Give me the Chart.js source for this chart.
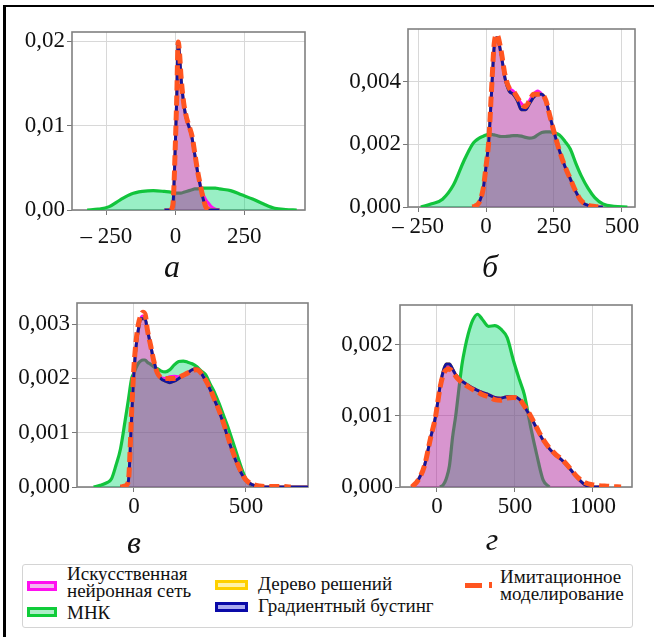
<!DOCTYPE html>
<html lang="ru">
<head>
<meta charset="UTF-8" />
<title>Плотности распределения</title>
<script src="https://cdn.jsdelivr.net/npm/chart.js"></script>
<style>
  body { margin: 0; background: #fff; width: 654px; height: 637px; overflow: hidden; position: relative; font-family: 'Liberation Serif', 'Times New Roman', 'DejaVu Serif', serif; }
  .frame { position: absolute; left: 3px; top: 5px; width: 700px; height: 700px; border-top: 2.5px solid #000; border-left: 3px solid #000; }
  canvas { position: absolute; }
  .sub { position: absolute; font-style: italic; font-size: 32px; line-height: 32px; transform: translateX(-50%); color: #111; }
  .legend { position: absolute; left: 22px; top: 564px; width: 609px; height: 62px; border: 1px solid #d4d4d4; border-radius: 3px; background: #fff; }
  .sw { position: absolute; box-sizing: border-box; border: 3px solid; }
  .lt { position: absolute; font-size: 19px; line-height: 17px; color: #111; white-space: nowrap; }
</style>
</head>
<body>
<div class="frame"></div>

<canvas id="chA"></canvas>
<canvas id="chB"></canvas>
<canvas id="chC"></canvas>
<canvas id="chD"></canvas>

<div class="sub" style="left:172px; top:250px;">а</div>
<div class="sub" style="left:490px; top:250px;">б</div>
<div class="sub" style="left:134px; top:526px;">в</div>
<div class="sub" style="left:492px; top:523px;">г</div>

<div class="legend"></div>
<div class="sw" style="left:27px; top:581px; width:30px; height:10px; border-color:#ff10f0; background:#f3b8ef;"></div>
<div class="lt" style="left:67px; top:565px;">Искусственная<br>нейронная сеть</div>
<div class="sw" style="left:27px; top:607px; width:30px; height:10px; border-color:#10cc3a; background:#aeeec8;"></div>
<div class="lt" style="left:67px; top:604px;">МНК</div>
<div class="sw" style="left:215px; top:580px; width:33px; height:10px; border-color:#ffd000; background:#fff2a8;"></div>
<div class="lt" style="left:258px; top:575px;">Дерево решений</div>
<div class="sw" style="left:215px; top:602px; width:33px; height:10px; border-color:#0a0aa8; background:#acacf0;"></div>
<div class="lt" style="left:258px; top:597px;">Градиентный бустинг</div>
<div style="position:absolute; left:465px; top:583px; width:17px; height:5px; background:#ff5520;"></div>
<div style="position:absolute; left:489px; top:582px; width:3px; height:6px; background:#ff5520;"></div>
<div class="lt" style="left:500px; top:568px;">Имитационное<br>моделирование</div>

<script>
// --- а ---
const xA = [-375,-320,-280,-240,-200,-160,-120,-80,-40,-15,-8,0,5,10,15,20,30,40,50,60,70,80,90,100,110,120,130,145,160,200,240,280,320,360,400,440,470];
const olsA = [null,0,0.0001,0.0004,0.0012,0.0019,0.0022,0.0023,0.0022,0.0021,0.0020,0.0020,0.0020,0.0020,0.0020,0.0020,0.0021,0.0022,0.0023,0.0024,0.0025,0.0025,0.0026,0.0026,0.0026,0.0026,0.0026,0.0026,0.0025,0.0023,0.0018,0.0013,0.0007,0.0002,0.00005,0,null];
const annA = [null,null,null,null,null,null,null,null,0,0,0.001,0.008,0.0135,0.0198,0.0185,0.0158,0.0126,0.0108,0.0098,0.0086,0.0066,0.0046,0.003,0.0019,0.0012,0.0008,0.0004,0.0001,0,null,null,null,null,null,null,null,null];
const gbA = [null,null,null,null,null,null,null,null,0,0,0.001,0.008,0.0135,0.0198,0.0185,0.0158,0.0126,0.0108,0.0098,0.0086,0.0066,0.0046,0.0029,0.0014,0.0003,0,0,0,0,null,null,null,null,null,null,null,null];
const imA = [null,null,null,null,null,null,null,null,null,0,0.001,0.008,0.0135,0.0199,0.0186,0.016,0.0127,0.011,0.0099,0.0088,0.0068,0.0047,0.003,0.0015,0.0004,0.00005,null,null,null,null,null,null,null,null,null,null,null];
const treeA = gbA; // дерево совпадает с бустингом и не видно

// --- б ---
const xB = [-290,-240,-200,-160,-120,-80,-50,-40,-25,-10,0,10,20,30,40,55,70,85,100,115,130,145,160,175,190,205,220,235,250,270,290,310,330,350,375,400,430,470,520,550];
const olsB = [null,0,0.0001,0.00025,0.0007,0.0015,0.002,0.0021,0.0022,0.00226,0.0023,0.00232,0.00232,0.0023,0.00228,0.00225,0.00225,0.00226,0.00228,0.00228,0.00226,0.00222,0.0022,0.00222,0.0023,0.00238,0.0024,0.0024,0.00237,0.0023,0.0021,0.00185,0.0014,0.001,0.0006,0.0003,0.0001,0.00002,0,null];
const annB = [null,null,null,null,null,null,0,0.00003,0.00015,0.0006,0.0013,0.0021,0.0036,0.0051,0.0054,0.0049,0.0041,0.0038,0.0037,0.0035,0.0033,0.0032,0.0034,0.0036,0.0037,0.0036,0.0034,0.0029,0.0024,0.0018,0.0013,0.0009,0.0005,0.00018,0.00005,0,0,null,null,null];
const gbB = [null,null,null,null,null,null,0,0.00003,0.00015,0.0006,0.0013,0.0021,0.0036,0.0051,0.0054,0.0049,0.0041,0.0037,0.0036,0.0034,0.0031,0.0031,0.0033,0.0035,0.0036,0.0036,0.0034,0.0029,0.0024,0.0018,0.0013,0.0009,0.0005,0.00018,0.00005,0,0,null,null,null];
const imB = [null,null,null,null,null,null,0,0.00003,0.00015,0.0006,0.0013,0.0021,0.0037,0.0052,0.0055,0.005,0.0042,0.0038,0.0037,0.0035,0.0033,0.0032,0.0034,0.0036,0.0036,0.0036,0.0034,0.0029,0.0024,0.0018,0.0013,0.0009,0.0005,0.0002,0.00006,0.00002,0,null,null,null];
const treeB = gbB;

// --- в ---
const xC = [-250,-200,-180,-150,-120,-100,-80,-60,-40,-25,-10,0,10,20,30,40,50,60,75,90,105,120,140,160,180,200,220,240,260,280,300,320,340,360,380,400,420,440,460,480,500,530,560,600,650,700,750,780];
const olsC = [null,null,0,0.00003,0.00008,0.00015,0.0004,0.0007,0.0012,0.0016,0.002,0.0021,0.0022,0.00228,0.00232,0.00234,0.00234,0.0023,0.00226,0.00221,0.00218,0.00214,0.00212,0.00216,0.00225,0.00231,0.00232,0.0023,0.00227,0.00222,0.00214,0.00207,0.0019,0.00174,0.00154,0.00132,0.0011,0.00085,0.0006,0.00035,0.00015,0.00001,0,null,null,null,null,null];
const annC = [null,null,null,null,null,null,null,0,0.00002,0.0001,0.0013,0.0021,0.0026,0.0029,0.0031,0.00315,0.0031,0.0029,0.0026,0.0023,0.0021,0.00202,0.002,0.00203,0.00204,0.00203,0.00205,0.0021,0.00216,0.00218,0.0021,0.00196,0.0018,0.0016,0.0014,0.00116,0.0009,0.00065,0.00043,0.00025,0.00012,0.00004,0.00001,0,0,0,0,0];
const gbC = [null,null,null,null,null,null,null,0,0.00002,0.0001,0.0013,0.0021,0.0026,0.0029,0.0031,0.0031,0.0031,0.0029,0.0026,0.0023,0.0021,0.002,0.00195,0.00192,0.00195,0.002,0.00205,0.0021,0.00216,0.00218,0.0021,0.00196,0.0018,0.0016,0.0014,0.00116,0.0009,0.00065,0.00043,0.00025,0.00012,0.00004,0.00001,0,0,0,0,0];
const imC = [null,null,null,null,null,null,null,0,0.00002,0.0001,0.0014,0.0022,0.0027,0.003,0.00315,0.00322,0.00318,0.0029,0.0026,0.0023,0.0021,0.00202,0.002,0.002,0.002,0.00202,0.00206,0.0021,0.00215,0.00216,0.0021,0.00197,0.00181,0.00161,0.00141,0.00118,0.00092,0.00067,0.00045,0.00027,0.00013,0.00005,0.00002,0.00001,0.00001,0,null,null];
const treeC = gbC;

// --- г ---
const xD = [-240,-200,-160,-120,-80,-40,-10,0,20,40,60,80,100,120,140,160,180,200,230,260,290,330,370,410,450,490,530,560,600,640,680,720,760,800,850,900,950,1000,1100,1180,1250];
const olsD = [null,null,null,null,null,null,null,null,0,0.00003,0.00012,0.0003,0.0007,0.001,0.00137,0.00172,0.00196,0.00215,0.00235,0.00243,0.00236,0.00226,0.00227,0.00222,0.0021,0.00178,0.0015,0.0013,0.00085,0.00045,0.0001,0,null,null,null,null,null,null,null,null,null];
const annD = [null,null,0,0.0001,0.0003,0.0007,0.00098,0.00112,0.00142,0.00162,0.0017,0.0017,0.00165,0.00158,0.00153,0.00149,0.00146,0.00143,0.00139,0.00136,0.00133,0.0013,0.00126,0.00125,0.00127,0.00127,0.00123,0.00113,0.00099,0.00082,0.00066,0.00054,0.00045,0.00038,0.00026,0.00013,0.00003,0,0,null,null];
const gbD = [null,null,0,0.0001,0.0003,0.0007,0.00098,0.00112,0.00142,0.00163,0.00173,0.00173,0.00166,0.00158,0.00153,0.00149,0.00146,0.00143,0.00139,0.00136,0.00133,0.0013,0.00126,0.00125,0.00127,0.00127,0.00123,0.00113,0.00099,0.00082,0.00066,0.00054,0.00045,0.00038,0.00026,0.00013,0.00003,0,0,null,null];
const imD = [null,null,0,0.0001,0.0003,0.0007,0.00098,0.00112,0.0014,0.00158,0.00165,0.00166,0.00162,0.00156,0.00151,0.00147,0.00144,0.00141,0.00137,0.00134,0.0013,0.00127,0.00123,0.00122,0.00125,0.00126,0.00123,0.00114,0.001,0.00083,0.00067,0.00055,0.00046,0.00039,0.00027,0.00014,0.00006,0.00003,0.00001,0,null];
const treeD = gbD;

// подписи делений
const xTicksA = [-250, 0, 250], yTicksA = [0, 0.01, 0.02];
const xTicksB = [-250, 0, 250, 500], yTicksB = [0, 0.002, 0.004];
const xTicksC = [0, 500], yTicksC = [0, 0.001, 0.002, 0.003];
const xTicksD = [0, 500, 1000], yTicksD = [0, 0.001, 0.002];

const Y_W = 72, PAD_T = 20, X_H = 50, PAD_R = 18;
const tickFont = { family: "'Liberation Serif', 'Times New Roman', 'DejaVu Serif', serif", size: 23 };

// рамка области построения (под кривыми)
const framePlugin = {
  id: 'frame',
  beforeDatasetsDraw(chart) {
    const { ctx, chartArea: a } = chart;
    ctx.save();
    ctx.strokeStyle = '#808080';
    ctx.lineWidth = 1.6;
    ctx.strokeRect(a.left, a.top, a.right - a.left, a.bottom - a.top);
    ctx.restore();
  }
};

function fmtX(v) {
  return v < 0 ? '– ' + Math.abs(v) : String(v);
}

function line(label, xs, ys, color, width, fillColor, order, dash) {
  return {
    label: label,
    data: xs.map((x, i) => ({ x: x, y: ys[i] })),
    borderColor: color,
    borderWidth: width,
    borderDash: dash || [],
    backgroundColor: fillColor || 'transparent',
    fill: fillColor ? 'origin' : false,
    pointRadius: 0,
    tension: 0.4,
    cubicInterpolationMode: 'monotone',
    order: order
  };
}

function makeChart(id, box, xs, s, xr, yr, xTicks, yTicks, dec, xPad) {
  const cv = document.getElementById(id);
  const w = box.r - box.l + Y_W + PAD_R;
  const h = box.b - box.t + PAD_T + X_H;
  cv.width = w; cv.height = h;
  cv.style.left = (box.l - Y_W) + 'px';
  cv.style.top = (box.t - PAD_T) + 'px';

  new Chart(cv.getContext('2d'), {
    type: 'line',
    data: {
      datasets: [
        line('Имитационное моделирование', xs, s.im, '#ff5520', 5, null, 0, [10, 5]),
        line('Градиентный бустинг', xs, s.gb, '#14149e', 3, 'rgba(40,20,120,0.18)', 1),
        line('Дерево решений', xs, s.tree, '#ffd000', 3, 'rgba(255,215,0,0.08)', 2),
        line('Искусственная нейронная сеть', xs, s.ann, '#ff10f0', 3, 'rgba(255,0,220,0.32)', 3),
        line('МНК', xs, s.ols, '#12c43c', 3.2, 'rgba(0,215,110,0.4)', 4)
      ]
    },
    options: {
      responsive: false,
      animation: false,
      layout: { padding: { top: PAD_T, right: PAD_R, left: 0, bottom: 0 } },
      plugins: { legend: { display: false }, tooltip: { enabled: false } },
      scales: {
        x: {
          type: 'linear', min: xr[0], max: xr[1],
          afterBuildTicks: sc => { sc.ticks = xTicks.map(v => ({ value: v })); },
          afterFit: sc => { sc.height = X_H; },
          grid: { color: '#d8d8d8', lineWidth: 1, tickLength: 5, tickColor: '#777' },
          border: { display: false },
          ticks: { font: tickFont, color: '#111', padding: xPad, maxRotation: 0, callback: fmtX }
        },
        y: {
          min: yr[0], max: yr[1],
          afterBuildTicks: sc => { sc.ticks = yTicks.map(v => ({ value: v })); },
          afterFit: sc => { sc.width = Y_W; },
          grid: { color: '#d8d8d8', lineWidth: 1, tickLength: 5, tickColor: '#777' },
          border: { display: false },
          ticks: { font: tickFont, color: '#111', padding: 2, callback: v => v.toFixed(dec).replace('.', ',') }
        }
      }
    },
    plugins: [framePlugin]
  });
}

makeChart('chA', { l: 72, t: 32, r: 305, b: 210 }, xA,
  { ols: olsA, ann: annA, tree: treeA, gb: gbA, im: imA },
  [-375, 470], [0, 0.0211], xTicksA, yTicksA, 2, 8);

makeChart('chB', { l: 408, t: 29, r: 635, b: 207 }, xB,
  { ols: olsB, ann: annB, tree: treeB, gb: gbB, im: imB },
  [-287, 548], [0, 0.00568], xTicksB, yTicksB, 3, 1);

makeChart('chC', { l: 77, t: 303, r: 308, b: 487 }, xC,
  { ols: olsC, ann: annC, tree: treeC, gb: gbC, im: imC },
  [-254, 777], [0, 0.00339], xTicksC, yTicksC, 3, 1);

makeChart('chD', { l: 400, t: 305, r: 632, b: 487 }, xD,
  { ols: olsD, ann: annD, tree: treeD, gb: gbD, im: imD },
  [-237, 1250], [0, 0.00256], xTicksD, yTicksD, 3, 1);
</script>
</body>
</html>
